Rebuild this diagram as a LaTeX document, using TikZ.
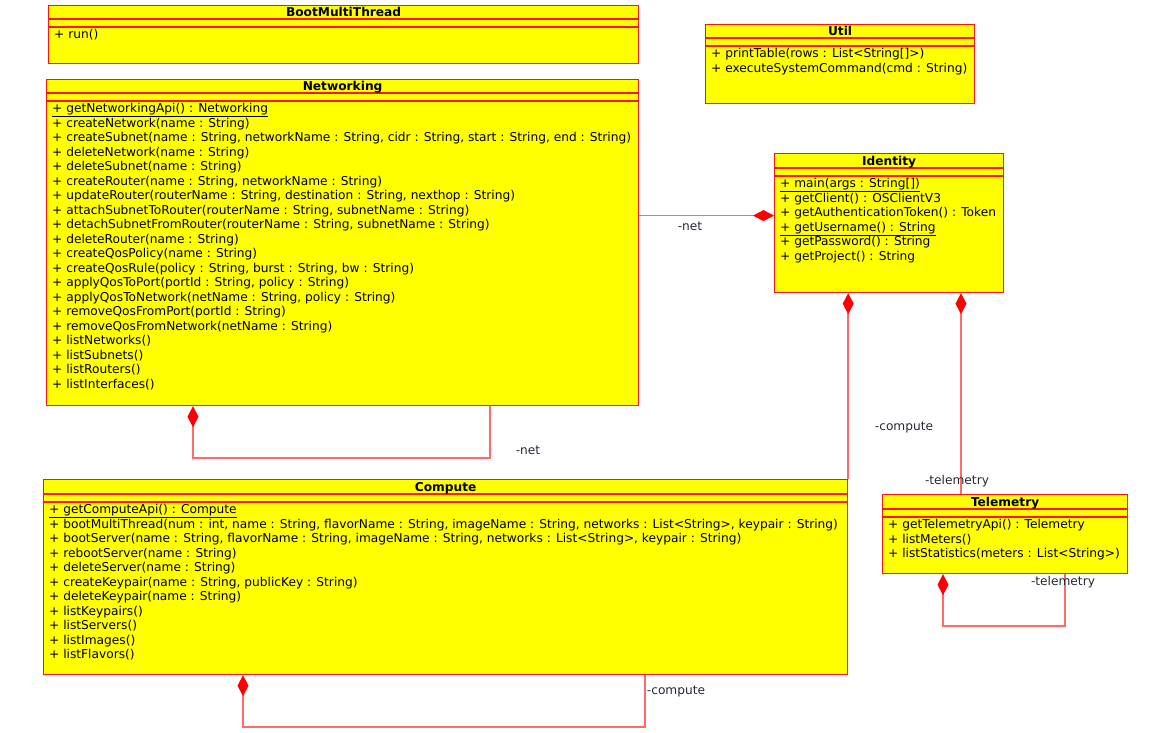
\documentclass[tikz,border=0pt]{standalone}
\usepackage{fontspec}
\setmainfont{DejaVu Sans}
\usetikzlibrary{arrows.meta}

\definecolor{classfill}{RGB}{255,255,0}
\definecolor{classedge}{RGB}{255,20,20}
\definecolor{linkcol}{RGB}{255,105,105}
\definecolor{labelcol}{RGB}{40,40,55}

\tikzset{
  classbox/.style={draw=classedge, fill=classfill, line width=1.2pt, inner sep=0pt},
  sepline/.style={draw=classedge, line width=1.1pt},
  titletext/.style={font=\fontsize{12.2}{14}\selectfont\bfseries, inner sep=0pt, text height=9.5pt, text depth=3pt},
  mline/.style={font=\fontsize{12.2}{14}\selectfont, inner sep=0pt, anchor=west, text height=9.5pt, text depth=3pt},
  conn/.style={draw=linkcol, line width=1.5pt},
  owner/.style={{Diamond[length=21pt,width=11pt,color=red,fill=red]}-},
  rolelabel/.style={font=\fontsize{12.2}{14}\selectfont, text=labelcol, inner sep=0pt}
}

% \umlclass{id}{x}{y}{width}{height}{title}{title offset}{member lines}
\newcommand\umlclass[8]{%
  \node[classbox, minimum width=#4pt, minimum height=#5pt, anchor=north west] (#1) at (#2,#3) {};
  \draw[sepline] ([yshift={-(#7+7)*1pt}]#1.north west) -- ([yshift={-(#7+7)*1pt}]#1.north east);
  \draw[sepline] ([yshift={-(#7+15)*1pt}]#1.north west) -- ([yshift={-(#7+15)*1pt}]#1.north east);
  \node[titletext] (#1-title) at ([yshift={-(#7+1.5)*1pt}]#1.north) {#6};
  \foreach \txt [count=\i] in {#8}
    \node[mline] (#1-m\i) at ([xshift=6pt, yshift={-(#7+23.5+14.5*(\i-1))*1pt}]#1.north west) {\txt};
}

\begin{document}
\begin{tikzpicture}[x=1pt, y=-1pt]
\useasboundingbox (0,0) rectangle (1151,733);

\umlclass{boot}{48}{5}{590}{58}{BootMultiThread}{7}{{+ run()}}

\umlclass{net}{46}{79}{592}{326}{Networking}{7}{
  {\underline{+ getNetworkingApi() : Networking}},
  {+ createNetwork(name : String)},
  {+ createSubnet(name : String, networkName : String, cidr : String, start : String, end : String)},
  {+ deleteNetwork(name : String)},
  {+ deleteSubnet(name : String)},
  {+ createRouter(name : String, networkName : String)},
  {+ updateRouter(routerName : String, destination : String, nexthop : String)},
  {+ attachSubnetToRouter(routerName : String, subnetName : String)},
  {+ detachSubnetFromRouter(routerName : String, subnetName : String)},
  {+ deleteRouter(name : String)},
  {+ createQosPolicy(name : String)},
  {+ createQosRule(policy : String, burst : String, bw : String)},
  {+ applyQosToPort(portId : String, policy : String)},
  {+ applyQosToNetwork(netName : String, policy : String)},
  {+ removeQosFromPort(portId : String)},
  {+ removeQosFromNetwork(netName : String)},
  {+ listNetworks()},
  {+ listSubnets()},
  {+ listRouters()},
  {+ listInterfaces()}}

\umlclass{util}{705}{24}{269}{79}{Util}{7}{
  {+ printTable(rows : List<String[]>)},
  {+ executeSystemCommand(cmd : String)}}

\umlclass{id}{774}{153}{229}{139}{Identity}{8}{
  {\underline{+ main(args : String[])}},
  {+ getClient() : OSClientV3},
  {+ getAuthenticationToken() : Token},
  {\underline{+ getUsername() : String}},
  {+ getPassword() : String},
  {+ getProject() : String}}

\umlclass{comp}{43}{479}{804}{195}{Compute}{8}{
  {\underline{+ getComputeApi() : Compute}},
  {+ bootMultiThread(num : int, name : String, flavorName : String, imageName : String, networks : List<String>, keypair : String)},
  {+ bootServer(name : String, flavorName : String, imageName : String, networks : List<String>, keypair : String)},
  {+ rebootServer(name : String)},
  {+ deleteServer(name : String)},
  {+ createKeypair(name : String, publicKey : String)},
  {+ deleteKeypair(name : String)},
  {+ listKeypairs()},
  {+ listServers()},
  {+ listImages()},
  {+ listFlavors()}}

\umlclass{tel}{882}{494}{245}{79}{Telemetry}{8}{
  {+ getTelemetryApi() : Telemetry},
  {+ listMeters()},
  {+ listStatistics(meters : List<String>)}}

% composition links
\coordinate (netid) at ([yshift=7.5pt]id.west);
\draw[conn, owner] (netid) -- (netid -| net.east);
\node[rolelabel] (lbl-net1) at (690,226) {-net};

\draw[conn, owner] ([xshift=147pt]net.south west) -- ++(0,52) -| ([xshift=444pt]net.south west);
\node[rolelabel] (lbl-net2) at (528,450) {-net};

\draw[conn, owner] (comp.north east |- id.south) -- (comp.north east);
\node[rolelabel] (lbl-comp1) at (904,427) {-compute};

\coordinate (teltop) at ([xshift=79pt]tel.north west);
\draw[conn, owner] (teltop |- id.south) -- (teltop);
\node[rolelabel] (lbl-tel1) at (957,481) {-telemetry};

\draw[conn, owner] ([xshift=200pt]comp.south west) -- ++(0,52) -| ([xshift=602pt]comp.south west);
\node[rolelabel] (lbl-comp2) at (676,691) {-compute};

\draw[conn, owner] ([xshift=61pt]tel.south west) -- ++(0,52) -| ([xshift=183pt]tel.south west);
\node[rolelabel] (lbl-tel2) at (1063,582) {-telemetry};
\end{tikzpicture}
\end{document}
